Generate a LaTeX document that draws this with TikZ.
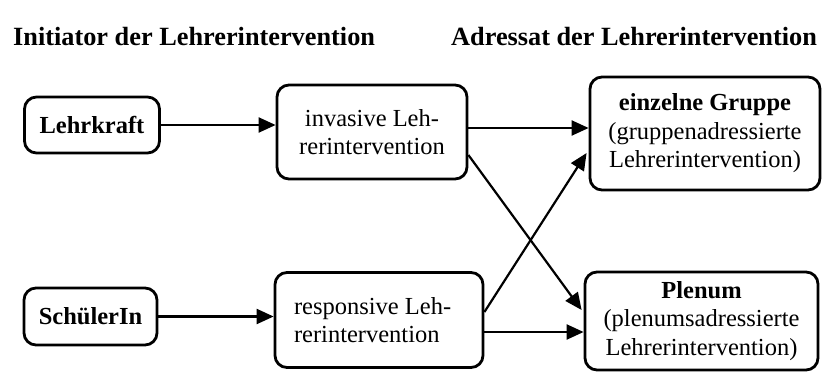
\documentclass[tikz,border=0pt]{standalone}
\usepackage{fontspec}
\setmainfont{Liberation Serif}
\usetikzlibrary{arrows.meta}
\tikzset{
  box/.style={draw, line width=2.8pt, rounded corners=12pt, inner sep=0pt, align=center,
    font=\fontsize{24.5}{28.5}\selectfont},
  title/.style={anchor=base west, inner sep=0pt, font=\fontsize{26.3}{30}\selectfont\bfseries},
  arr/.style={line width=2.2pt, -{Triangle[length=17pt,width=15pt]}}
}
\begin{document}
\begin{tikzpicture}[x=1pt,y=-1pt]
\useasboundingbox (0,0) rectangle (822,372);
\node[title] (t1) at (13,45) {Initiator der Lehrerintervention};
\node[title] (t2) at (451,45) {Adressat der Lehrerintervention};

\node[box, minimum width=135pt, minimum height=56pt] (lehr) at (92,125) {\textbf{Lehrkraft}};
\node[box, minimum width=190pt, minimum height=94pt] (inv) at (372,132) {invasive Leh-\\rerintervention};
\node[box, minimum width=230pt, minimum height=113pt] (ein) at (705,133.5) {\textbf{einzelne Gruppe}\\(gruppenadressierte\\Lehrerintervention)};
\node[box, minimum width=133pt, minimum height=57pt] (sch) at (90.5,316.5) {\textbf{SchülerIn}};
\node[box, minimum width=208pt, minimum height=95pt, text width=170pt, align=flush left] (resp) at (379,320) {responsive Leh-\\rerintervention};
\node[box, minimum width=233pt, minimum height=98pt] (plen) at (701.5,321) {\textbf{Plenum}\\(plenumsadressierte\\Lehrerintervention)};

\draw[arr] (lehr.east) -- (inv.west |- lehr.east);
\coordinate (a1) at ([yshift=4pt]inv.east);
\draw[arr] (a1) -- (ein.west |- a1);
\draw[arr] ([yshift=-23pt]inv.east) -- ([yshift=11pt,xshift=-2pt]plen.west);
\draw[arr] ([yshift=8pt]resp.east) -- ([yshift=-19.5pt,xshift=-2pt]ein.west);
\coordinate (a2) at ([yshift=-12pt]resp.east);
\draw[arr] (a2) -- (plen.west |- a2);
\draw[arr] (sch.east) -- (resp.west |- sch.east);
\end{tikzpicture}
\end{document}
